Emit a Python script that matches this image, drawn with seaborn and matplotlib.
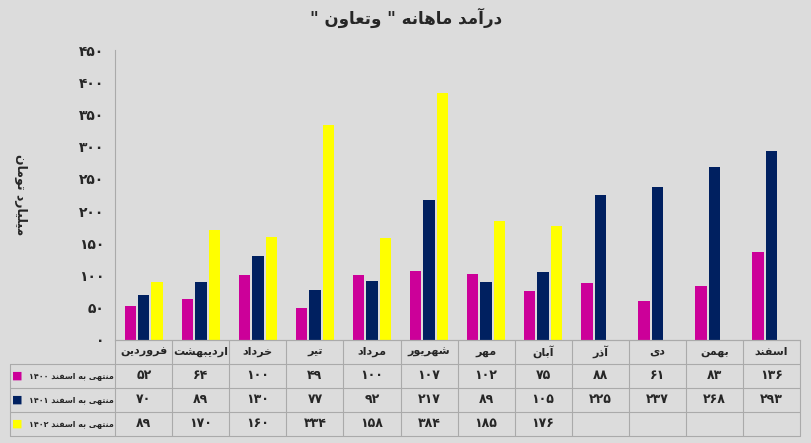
import matplotlib
matplotlib.use("Agg")
import matplotlib.pyplot as plt
import numpy as np
import pandas as pd
import seaborn as sns

months = ["فروردین", "اردیبهشت", "خرداد", "تیر", "مرداد", "شهریور",
          "مهر", "آبان", "آذر", "دی", "بهمن", "اسفند"]
series_names = ["منتهی به اسفند ۱۴۰۰", "منتهی به اسفند ۱۴۰۱", "منتهی به اسفند ۱۴۰۲"]
v1400 = [52, 64, 100, 49, 100, 107, 102, 75, 88, 61, 83, 136]
v1401 = [70, 89, 130, 77, 92, 217, 89, 105, 225, 237, 268, 293]
v1402 = [89, 170, 160, 334, 158, 384, 185, 176, None, None, None, None]
colors = ["#CC0099", "#002060", "#FFFF00"]
yticks = list(range(0, 451, 50))

# minimal arabic shaping: (isolated, final, initial, medial); 2-tuple = joins only to the right
FORMS = {
    "ا": (0xFE8D, 0xFE8E), "آ": (0xFE81, 0xFE82), "د": (0xFEA9, 0xFEAA),
    "ذ": (0xFEAB, 0xFEAC), "ر": (0xFEAD, 0xFEAE), "ز": (0xFEAF, 0xFEB0),
    "و": (0xFEED, 0xFEEE),
    "ب": (0xFE8F, 0xFE90, 0xFE91, 0xFE92), "ت": (0xFE95, 0xFE96, 0xFE97, 0xFE98),
    "خ": (0xFEA5, 0xFEA6, 0xFEA7, 0xFEA8), "س": (0xFEB1, 0xFEB2, 0xFEB3, 0xFEB4),
    "ش": (0xFEB5, 0xFEB6, 0xFEB7, 0xFEB8), "ع": (0xFEC9, 0xFECA, 0xFECB, 0xFECC),
    "ف": (0xFED1, 0xFED2, 0xFED3, 0xFED4), "ل": (0xFEDD, 0xFEDE, 0xFEDF, 0xFEE0),
    "م": (0xFEE1, 0xFEE2, 0xFEE3, 0xFEE4), "ن": (0xFEE5, 0xFEE6, 0xFEE7, 0xFEE8),
    "ه": (0xFEE9, 0xFEEA, 0xFEEB, 0xFEEC), "ی": (0xFBFC, 0xFBFD, 0xFBFE, 0xFBFF),
}


def shape_word(w):
    out = []
    for i, c in enumerate(w):
        if c not in FORMS:
            out.append(c)
            continue
        f = FORMS[c]
        prev = w[i - 1] if i > 0 else None
        nxt = w[i + 1] if i < len(w) - 1 else None
        jp = prev in FORMS and len(FORMS[prev]) == 4
        jn = len(f) == 4 and nxt in FORMS
        if jp and jn:
            k = 3
        elif jp:
            k = 1
        elif jn:
            k = 2
        else:
            k = 0
        out.append(chr(f[k]))
    return "".join(out)


def rtl(s):
    words = []
    for w in s.split(" "):
        if any(c in FORMS for c in w):
            w = shape_word(w)[::-1]
        words.append(w)
    return " ".join(words[::-1])


def fa(n):
    return str(n).translate(str.maketrans("0123456789", "۰۱۲۳۴۵۶۷۸۹"))


rows = []
for name, vals in zip(series_names, [v1400, v1401, v1402]):
    for m, v in zip(months, vals):
        rows.append({"month": m, "series": name, "value": v})
df = pd.DataFrame(rows)

sns.set_style("white")
plt.rcParams["font.family"] = ["DejaVu Sans"]
bg = "#DCDCDC"
fig = plt.figure(figsize=(8.12, 4.43), dpi=100, facecolor=bg)
ax = fig.add_axes([0.142, 0.233, 0.843, 0.654], facecolor=bg)
sns.barplot(data=df, x="month", y="value", hue="series", order=months,
            hue_order=series_names, palette=colors, width=0.7, gap=0.15,
            saturation=1, linewidth=0, legend=False, ax=ax)
ax.set_ylim(0, 450)
ax.set_xlim(-0.5, 11.5)
ax.set_yticks(yticks)
ax.set_yticklabels([fa(t) for t in yticks], fontweight="bold", fontsize=10)
ax.set_xticks([])
ax.set_xlabel("")
ax.set_ylabel("")
ax.tick_params(axis="y", length=0, pad=8)
for s in ["top", "right"]:
    ax.spines[s].set_visible(False)
ax.spines["left"].set_color("#aaaaaa")
ax.spines["bottom"].set_color("#aaaaaa")

fig.text(0.5, 0.96, rtl('درآمد ماهانه " وتعاون "'), ha="center", va="center",
         fontsize=12, fontweight="bold")
fig.text(0.025, 0.56, rtl("میلیارد تومان"), rotation=-90, ha="center",
         va="center", fontsize=9, fontweight="bold")

# data table below the axes
rh = 24 / 290
left = -0.5 - 105 / (685 / 12)
tr = ax.get_xaxis_transform()
line_kw = dict(color="#aaaaaa", lw=0.8, transform=tr, clip_on=False)
for k in range(5):
    y = -k * rh
    x0 = -0.5 if k == 0 else left
    ax.plot([x0, 11.5], [y, y], **line_kw)
for x in np.arange(-0.5, 12.5, 1):
    ax.plot([x, x], [0, -4 * rh], **line_kw)
ax.plot([left, left], [-rh, -4 * rh], **line_kw)
for i, m in enumerate(months):
    ax.text(i, -0.5 * rh, rtl(m), ha="center", va="center", fontsize=8,
            fontweight="bold", transform=tr, clip_on=False)
for r, (name, vals, c) in enumerate(zip(series_names, [v1400, v1401, v1402], colors)):
    y = -(r + 1.5) * rh
    ax.text(left + 0.03, y, "■", color=c, ha="left", va="center", fontsize=8,
            transform=tr, clip_on=False)
    ax.text(-0.53, y, rtl(name), ha="right", va="center", fontsize=5.8,
            fontweight="bold", transform=tr, clip_on=False)
    for i, v in enumerate(vals):
        if v is not None:
            ax.text(i, y, fa(v), ha="center", va="center", fontsize=9,
                    fontweight="bold", transform=tr, clip_on=False)

fig.savefig("out.png", dpi=100, facecolor=bg)
